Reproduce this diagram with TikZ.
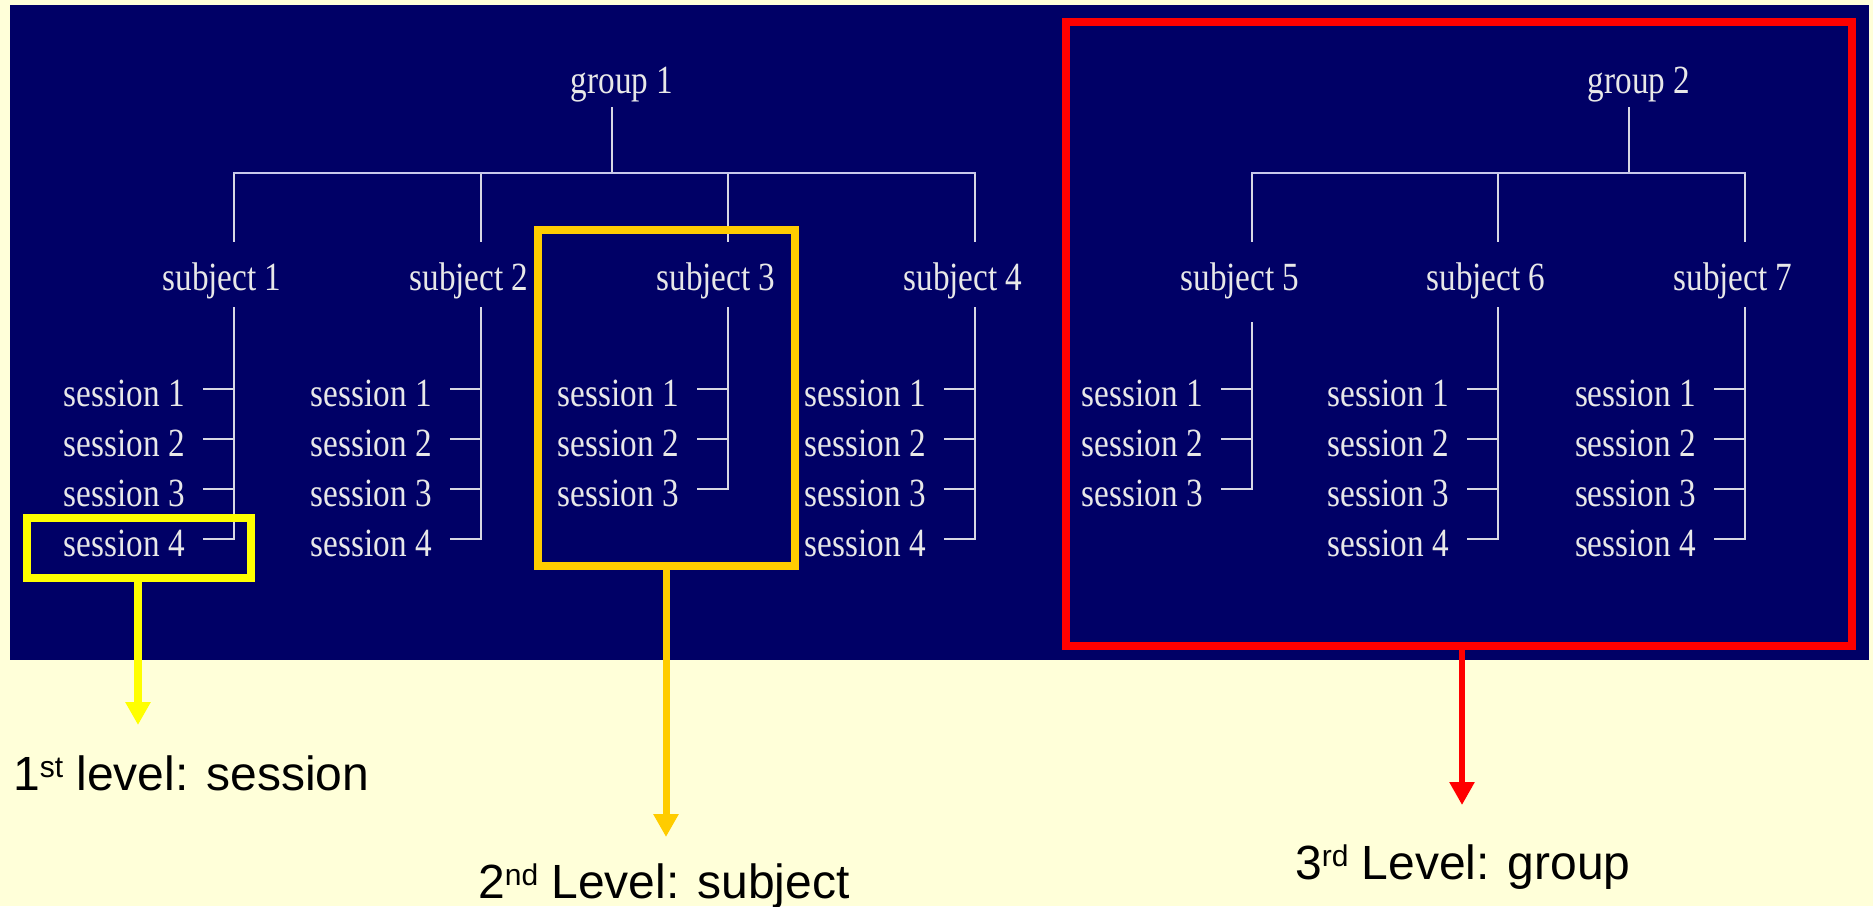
\documentclass[tikz,border=0pt]{standalone}
\usepackage{fontspec}
\setmainfont{Liberation Sans}
\newfontfamily\treefont[FakeStretch=0.83]{Liberation Serif}
\usetikzlibrary{arrows.meta}
\definecolor{cream}{RGB}{255,255,217}
\definecolor{navy}{RGB}{0,0,102}
\definecolor{treeline}{RGB}{215,215,228}
\definecolor{treehline}{RGB}{200,200,235}
\definecolor{treetext}{RGB}{232,232,232}
\definecolor{goldbox}{RGB}{255,204,0}
\definecolor{yellowbox}{RGB}{255,255,0}
\definecolor{redbox}{RGB}{255,0,0}
\newcommand\lvlsup[1]{\raisebox{13pt}{\fontsize{30}{30}\selectfont #1}}
\begin{document}
\begin{tikzpicture}[x=1pt,y=-1pt,
  tree/.style={draw=treeline,line width=2pt,line cap=rect},
  treeh/.style={draw=treehline,line width=2.2pt,line cap=rect},
  lbl/.style={text=treetext,font=\treefont\fontsize{40}{42}\selectfont,inner sep=0pt},
  hlbox/.style={draw=#1,line width=8pt,inner sep=0pt,fill=none},
  levelarrow/.style={draw=#1,-{Triangle[length=23pt,width=24pt]}},
  levellbl/.style={anchor=base west,inner sep=0pt,text=black,font=\fontsize{48}{50}\selectfont}]
\fill[cream] (0,0) rectangle (1873,906);
\useasboundingbox (0,0) rectangle (1873,906);
\fill[navy] (10,5) rectangle (1869,660);

% group 1
\node[lbl,anchor=base] (g1) at (622,93) {group 1};
\coordinate (g1b) at (612,108);
\coordinate (g1j) at (612,173);
\draw[tree] (g1b) -- (g1j);
% group 2
\node[lbl,anchor=base] (g2) at (1639,93) {group 2};
\coordinate (g2b) at (1629,108);
\coordinate (g2j) at (1629,173);
\draw[tree] (g2b) -- (g2j);

\foreach \n/\X/\top/\k in {1/234/308/4, 2/481/308/4, 3/728/308/3, 4/975/308/4, 5/1252/323/3, 6/1498/308/4, 7/1745/308/4} {
  \coordinate (b\n) at (\X,173);
  \coordinate (bt\n) at (\X,241);
  \draw[tree] (b\n) -- (bt\n);
  \node[lbl,anchor=base] (s\n) at (\X-12,290) {subject \n};
  \coordinate (v\n) at (\X,\top);
  \foreach \m in {1,...,\k} {
    \pgfmathsetmacro\yy{389+50*(\m-1)}
    \coordinate (t\n-\m) at (\X,\yy);
    \coordinate (tk\n-\m) at (\X-30,\yy);
    \node[lbl,anchor=base east] (se\n-\m) at (\X-49,\yy+17) {session \m};
    \draw[tree] (tk\n-\m) -- (t\n-\m);
  }
  \draw[tree] (v\n) -- (t\n-\k);
}
\draw[treeh] (b1) -- (b4);
\draw[treeh] (b5) -- (b7);

% highlight boxes
\node[hlbox=yellowbox,minimum width=223.5pt,minimum height=60pt] (ybox) at (138.75,548) {};
\node[hlbox=goldbox,minimum width=256.5pt,minimum height=336pt] (gbox) at (666.25,398) {};
\node[hlbox=redbox,minimum width=786pt,minimum height=624pt] (rbox) at (1459,334) {};

% arrows
\coordinate (ytip) at (138,725);
\coordinate (gtip) at (666,837);
\coordinate (rtip) at (1462,805);
\draw[levelarrow=yellowbox,line width=8pt] (ybox.south -| ytip) -- (ytip);
\draw[levelarrow=goldbox,line width=7pt] (gbox.south -| gtip) -- (gtip);
\draw[levelarrow=redbox,line width=5.5pt] (rbox.south -| rtip) -- (rtip);

% level labels
\node[levellbl] (l1) at (13,790) {1\lvlsup{st} level: session};
\node[levellbl] (l2) at (478,898) {2\lvlsup{nd} Level: subject};
\node[levellbl] (l3) at (1295,879) {3\lvlsup{rd} Level: group};
\end{tikzpicture}
\end{document}
